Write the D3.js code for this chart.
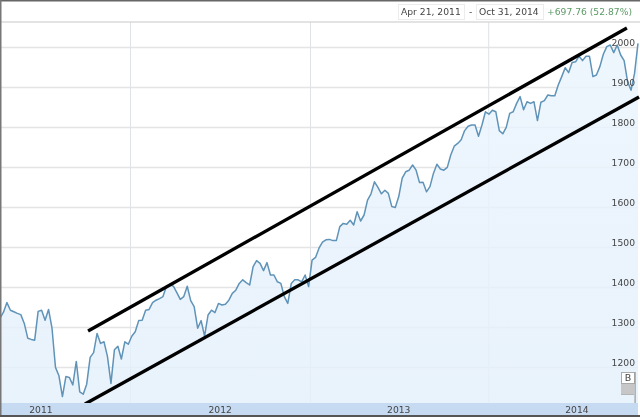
<!DOCTYPE html>
<html><head><meta charset="utf-8">
<script src="https://cdn.jsdelivr.net/npm/d3@7/dist/d3.min.js"></script>
<style>html,body{margin:0;padding:0;background:#fff;overflow:hidden}svg{display:block;filter:blur(0.35px)}text{font-family:"DejaVu Sans",sans-serif}</style>
</head><body><svg id="c" width="640" height="417"></svg>
<script>
// weekly index values of the index, Apr 2011 to Oct 2014
const closes = [1322,1337,1361,1342,1338,1334,1331,1309,1272,1269,1267,1339,1342,1317,1344,1297,1199,1178,1126,1176,
1174,1155,1214,1138,1132,1157,1224,1236,1284,1259,1263,1226,1159,1243,1252,1220,1263,1257,1277,1288,
1316,1317,1342,1344,1361,1367,1371,1376,1402,1406,1402,1386,1369,1376,1402,1366,1351,1297,1316,1277,
1330,1342,1336,1359,1355,1357,1367,1384,1392,1409,1418,1411,1405,1451,1466,1459,1441,1461,1430,1430,
1413,1409,1376,1359,1409,1418,1418,1413,1430,1401,1467,1474,1497,1512,1518,1519,1516,1516,1551,1559,
1557,1567,1555,1588,1565,1580,1617,1633,1663,1649,1633,1642,1634,1601,1599,1626,1672,1688,1692,1705,
1692,1661,1662,1638,1651,1684,1707,1695,1692,1699,1730,1752,1759,1768,1791,1802,1805,1805,1777,1805,
1838,1832,1842,1838,1791,1783,1799,1834,1838,1859,1876,1843,1863,1859,1863,1816,1862,1866,1880,1878,
1878,1905,1926,1948,1936,1961,1963,1977,1966,1977,1977,1926,1930,1951,1982,2001,2005,1986,2005,1980,
1966,1913,1892,1934,2009];
const priceTicks = [1200,1300,1400,1500,1600,1700,1800,1900,2000];
const yearLabels = ["2011","2012","2013","2014"];
const yearLabelWeek = [11.8,63.5,115,166.4];
const yearStartWeek = [37.5,89.4,140.8];
const upperChannel = [[25.4,1290],[180.8,2047.5]];
const lowerChannel = [[24.5,1107.5],[184.3,1875]];
const rangeStart = "Apr 21, 2011", rangeEnd = "Oct 31, 2014", rangeChange = "+697.76 (52.87%)";

const svg = d3.select("#c");
const W = 640, H = 417, plotL = 0, plotR = 638, plotT = 22, plotB = 403, stripB = 415;
const x = d3.scaleLinear().domain([0, closes.length-1]).range([plotL, plotR]);
const y = d3.scaleLinear().domain([1200,2000]).range([367,47]);

svg.append("rect").attr("width",W).attr("height",H).attr("fill","#fff");

// horizontal + vertical grid
const gy = svg.append("g").call(d3.axisRight(y).tickValues(priceTicks).tickSize(plotR).tickFormat(""));
gy.select(".domain").remove();
gy.selectAll("line").attr("stroke","#e4e4e4").attr("stroke-width",1.4);
const gx = svg.append("g").attr("transform",`translate(0,${plotB})`)
  .call(d3.axisTop(x).tickValues(yearStartWeek).tickSize(plotB-plotT).tickFormat(""));
gx.select(".domain").remove();
gx.selectAll("line").attr("stroke","#dfe2e6").attr("stroke-width",1);

// area + line
const fillGrad = svg.append("defs").append("linearGradient").attr("id","fg").attr("x1",0).attr("x2",0).attr("y1",0).attr("y2",1);
fillGrad.append("stop").attr("offset",0).attr("stop-color","#eaf4fd");
fillGrad.append("stop").attr("offset",1).attr("stop-color","#e4f0fb");
svg.append("path").datum(closes)
  .attr("d",d3.area().x((d,i)=>x(i)).y0(plotB).y1(d=>y(d)))
  .attr("fill","url(#fg)").attr("fill-opacity",0.82);
svg.append("path").datum(closes)
  .attr("d",d3.line().x((d,i)=>x(i)).y(d=>y(d)))
  .attr("fill","none").attr("stroke","#5f93b8").attr("stroke-width",1.5).attr("stroke-linejoin","round");

// hand-drawn channel
const chan = d3.line().x(d=>x(d[0])).y(d=>y(d[1]));
[upperChannel,lowerChannel].forEach(c=>svg.append("path").attr("d",chan(c))
  .attr("fill","none").attr("stroke","#000").attr("stroke-width",3.3));

// y labels
svg.append("g").selectAll("text").data(priceTicks).join("text")
  .attr("x",635).attr("y",d=>y(d)-4).attr("dy","0.35em").attr("text-anchor","end")
  .attr("font-size",9.2).attr("fill","#444").text(d=>d);

// x strip
svg.append("rect").attr("x",0).attr("y",plotB).attr("width",plotR).attr("height",stripB-plotB).attr("fill","#c6daf1");
svg.append("g").selectAll("text").data(yearLabels).join("text")
  .attr("x",(d,i)=>x(yearLabelWeek[i])).attr("y",409.5).attr("dy","0.35em").attr("text-anchor","middle")
  .attr("font-size",9.2).attr("fill","#444").text(d=>d);

// header
svg.append("line").attr("x1",0).attr("x2",W).attr("y1",22).attr("y2",22).attr("stroke","#dadada").attr("stroke-width",1.5);
[[398,66],[476,67]].forEach(b=>svg.append("rect").attr("x",b[0]+.5).attr("y",4.5).attr("width",b[1]).attr("height",15)
  .attr("fill","#fff").attr("stroke","#ececec"));
const ht = (tx,s,col)=>svg.append("text").attr("x",tx).attr("y",11.5).attr("dy","0.35em").attr("font-size",9.2).attr("fill",col).text(s);
ht(401,rangeStart,"#444"); ht(469,"-","#444"); ht(479,rangeEnd,"#444"); ht(547,rangeChange,"#5c9a66");

// B flag
const stack = svg.append("g");
stack.append("rect").attr("x",621).attr("y",383).attr("width",13).attr("height",12).attr("fill","#b5b5b5");
d3.range(385,395,2).forEach(v=>stack.append("line").attr("x1",621).attr("x2",634).attr("y1",v).attr("y2",v).attr("stroke","#d8d8d8"));
stack.append("rect").attr("x",621.5).attr("y",372.5).attr("width",13).attr("height",11).attr("fill","#fff").attr("stroke","#aaa");
stack.append("text").attr("x",628).attr("y",378).attr("dy","0.35em").attr("text-anchor","middle").attr("font-size",9.5).attr("fill","#444").text("B");

// frame
svg.append("rect").attr("x",0).attr("y",0).attr("width",W).attr("height",1.5).attr("fill","#666");
svg.append("rect").attr("x",0).attr("y",0).attr("width",1.5).attr("height",H).attr("fill","#777");
svg.append("rect").attr("x",634.5).attr("y",372).attr("width",1.2).attr("height",plotB-372).attr("fill","#999");
svg.append("rect").attr("x",0).attr("y",stripB).attr("width",W).attr("height",2).attr("fill","#555");
</script></body></html>
